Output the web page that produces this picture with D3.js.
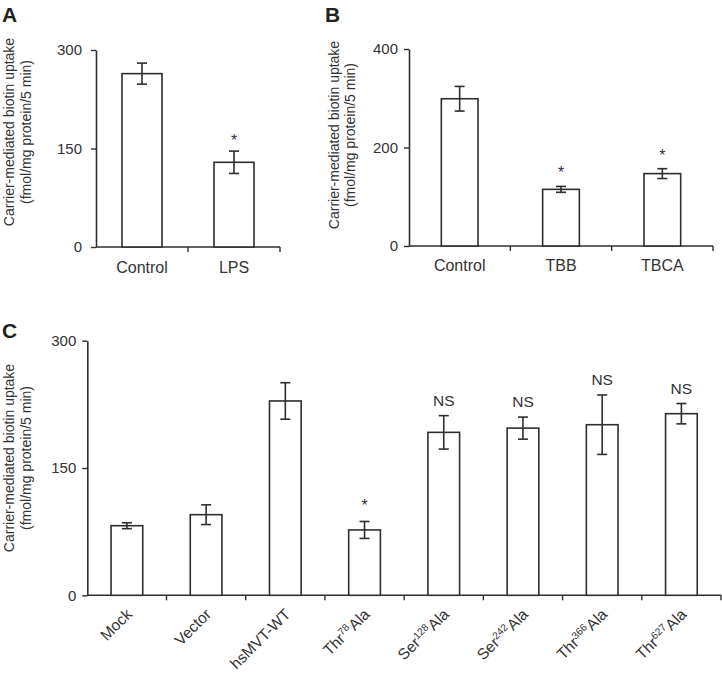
<!DOCTYPE html>
<html>
<head>
<meta charset="utf-8">
<script src="https://cdn.jsdelivr.net/npm/d3@7/dist/d3.min.js"></script>
<style>
  html, body { margin: 0; padding: 0; background: #fff; }
  svg { display: block; font-family: "Liberation Sans", Arial, sans-serif; }
</style>
</head>
<body>
<svg id="chart" width="722" height="676"></svg>
<script>
// ---------- data ----------
const aCategories = ["Control", "LPS"];
const aValues = [264, 129];
const aErrors = [16, 17];
const aMarks = ["", "*"];
const aTicks = [0, 150, 300];

const bCategories = ["Control", "TBB", "TBCA"];
const bValues = [299, 115, 147];
const bErrors = [25, 6, 10];
const bMarks = ["", "*", "*"];
const bTicks = [0, 200, 400];

// {..} marks superscript text
const cCategories = ["Mock", "Vector", "hsMVT-WT", "Thr{78}Ala", "Ser{128}Ala", "Ser{242}Ala", "Thr{366}Ala", "Thr{627}Ala"];
const cValues = [82, 95, 229, 77, 192, 197, 201, 214];
const cErrors = [3.5, 11.6, 21.5, 10, 19.7, 13, 35, 12];
const cMarks = ["", "", "", "*", "NS", "NS", "NS", "NS"];
const cTicks = [0, 150, 300];

const yTitle1 = "Carrier-mediated biotin uptake";
const yTitle2 = "(fmol/mg protein/5 min)";

// ---------- drawing ----------
const svg = d3.select("#chart");
const INK = "#2e2e2e";
const TXT = "#333";

function panel(opts) {
  const g = svg.append("g");
  const x = d3.scaleBand().domain(opts.categories).range(opts.xRange).padding(0);
  const y = d3.scaleLinear().domain(opts.yDomain).range(opts.yRange);
  const bw = x.bandwidth() * opts.barFrac;
  const data = opts.categories.map((c, i) => ({c, v: opts.values[i], e: opts.errors[i], m: opts.marks[i]}));

  // y axis
  const ya = g.append("g").attr("transform", `translate(${opts.xRange[0]},0)`)
    .call(d3.axisLeft(y).tickValues(opts.ticks).tickSize(5).tickSizeOuter(0).tickPadding(opts.tickPad));
  ya.select(".domain").attr("stroke", INK).attr("stroke-width", 1.6);
  ya.selectAll(".tick line").attr("stroke", INK).attr("stroke-width", 1.4);
  ya.selectAll(".tick text").attr("fill", TXT).attr("font-size", opts.tickFs).attr("font-family", "Liberation Sans, Arial, sans-serif");

  // x axis (ticks at category boundaries)
  const y0 = y(0);
  g.append("line").attr("x1", opts.xRange[0]).attr("x2", opts.xRange[1]).attr("y1", y0).attr("y2", y0)
    .attr("stroke", INK).attr("stroke-width", 1.6);
  const bounds = opts.categories.map(c => x(c)).concat([opts.xRange[1]]);
  g.selectAll(".xt").data(bounds.slice(1)).enter().append("line")
    .attr("x1", d => d).attr("x2", d => d).attr("y1", y0).attr("y2", y0 + 5)
    .attr("stroke", INK).attr("stroke-width", 1.4);

  // bars
  g.selectAll(".bar").data(data).enter().append("rect")
    .attr("x", d => x(d.c) + (x.bandwidth() - bw) / 2)
    .attr("y", d => y(d.v))
    .attr("width", bw)
    .attr("height", d => y0 - y(d.v))
    .attr("fill", "#fff").attr("stroke", INK).attr("stroke-width", 1.6);

  // error bars
  const cx = d => x(d.c) + x.bandwidth() / 2;
  const cap = 5;
  const eg = g.selectAll(".err").data(data).enter().append("g");
  eg.append("line").attr("x1", cx).attr("x2", cx).attr("y1", d => y(d.v + d.e)).attr("y2", d => y(d.v - d.e))
    .attr("stroke", INK).attr("stroke-width", 1.6);
  eg.append("line").attr("x1", d => cx(d) - cap).attr("x2", d => cx(d) + cap).attr("y1", d => y(d.v + d.e)).attr("y2", d => y(d.v + d.e))
    .attr("stroke", INK).attr("stroke-width", 1.6);
  eg.append("line").attr("x1", d => cx(d) - cap).attr("x2", d => cx(d) + cap).attr("y1", d => y(d.v - d.e)).attr("y2", d => y(d.v - d.e))
    .attr("stroke", INK).attr("stroke-width", 1.6);

  // significance marks
  g.selectAll(".mark").data(data.filter(d => d.m)).enter().append("text")
    .attr("x", cx)
    .attr("y", d => y(d.v + d.e) - (d.m === "*" ? opts.starGap : opts.nsGap))
    .attr("text-anchor", "middle")
    .attr("font-size", d => d.m === "*" ? 16 : 15.5).attr("fill", TXT)
    .text(d => d.m);

  // category labels
  if (!opts.rotate) {
    g.selectAll(".cat").data(data).enter().append("text")
      .attr("x", cx).attr("y", y0 + opts.labelDy)
      .attr("text-anchor", "middle").attr("font-size", opts.catFs).attr("fill", TXT)
      .text(d => d.c);
  } else {
    const lab = g.selectAll(".cat").data(data).enter().append("text")
      .attr("transform", d => `translate(${cx(d) + opts.rotDx},${y0 + opts.rotDy}) rotate(-45)`)
      .attr("text-anchor", "end").attr("font-size", opts.catFs).attr("fill", TXT);
    lab.each(function(d) {
      const t = d3.select(this);
      const parts = d.c.split(/\{|\}/);
      let shift = 0;
      parts.forEach((p, i) => {
        if (!p) return;
        const isSup = i % 2 === 1;
        const ts = t.append("tspan").text(p);
        if (isSup) { ts.attr("font-size", opts.catFs * 0.66).attr("dy", -5.5); shift = 5.5; }
        else if (shift) { ts.attr("dy", shift).attr("dx", 1); shift = 0; }
      });
    });
  }

  // y titles
  const tg = g.append("g");
  tg.append("text").attr("transform", `translate(${opts.title1X},${opts.titleCY}) rotate(-90)`)
    .attr("text-anchor", "middle").attr("font-size", 14).attr("fill", TXT).text(yTitle1);
  tg.append("text").attr("transform", `translate(${opts.title2X},${opts.titleCY}) rotate(-90)`)
    .attr("text-anchor", "middle").attr("font-size", 14).attr("fill", TXT).text(yTitle2);

  // panel letter
  g.append("text").attr("x", opts.letterX).attr("y", opts.letterY)
    .attr("font-size", 21).attr("font-weight", "bold").attr("fill", "#222").text(opts.letter);
}

panel({
  categories: aCategories, values: aValues, errors: aErrors, marks: aMarks, ticks: aTicks,
  xRange: [96, 280], yDomain: [0, 300], yRange: [247, 50], barFrac: 0.435, tickPad: 9,
  tickFs: 15, catFs: 16,
  starGap: 5, nsGap: 9, labelDy: 26,
  title1X: 14, title2X: 31, titleCY: 132, letter: "A", letterX: 2, letterY: 22
});

panel({
  categories: bCategories, values: bValues, errors: bErrors, marks: bMarks, ticks: bTicks,
  xRange: [409, 713], yDomain: [0, 400], yRange: [246, 49], barFrac: 0.362, tickPad: 6,
  tickFs: 15, catFs: 16,
  starGap: 8, nsGap: 9, labelDy: 25,
  title1X: 339, title2X: 355, titleCY: 135, letter: "B", letterX: 325, letterY: 22
});

panel({
  categories: cCategories, values: cValues, errors: cErrors, marks: cMarks, ticks: cTicks,
  xRange: [87.3, 721], yDomain: [0, 300], yRange: [595.3, 340.7], barFrac: 0.4, tickPad: 6,
  tickFs: 15, catFs: 15.5,
  starGap: 10, nsGap: 10, rotate: true, rotDx: 6, rotDy: 20,
  title1X: 14, title2X: 31, titleCY: 458, letter: "C", letterX: 2, letterY: 338
});
</script>
</body>
</html>
